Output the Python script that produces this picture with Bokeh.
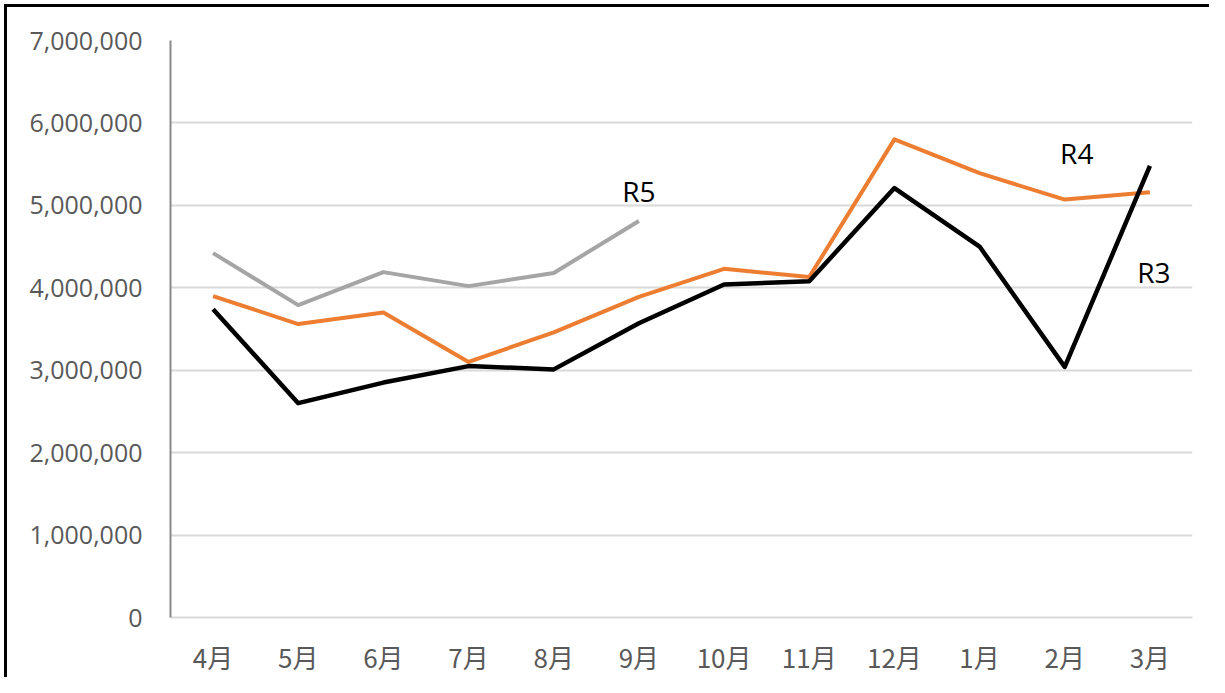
from bokeh.plotting import figure
from bokeh.models import ColumnDataSource, FactorRange, Range1d, NumeralTickFormatter, FixedTicker
from bokeh.core.properties import value
from bokeh.embed import file_html
from bokeh.resources import INLINE

months = ["4月", "5月", "6月", "7月", "8月", "9月", "10月", "11月", "12月", "1月", "2月", "3月"]
r3 = [3740000, 2600000, 2850000, 3050000, 3010000, 3570000, 4040000, 4080000, 5210000, 4500000, 3040000, 5480000]
r4 = [3900000, 3560000, 3700000, 3100000, 3460000, 3890000, 4230000, 4130000, 5800000, 5390000, 5070000, 5160000]
r5_months = ["4月", "5月", "6月", "7月", "8月", "9月"]
r5 = [4420000, 3790000, 4190000, 4020000, 4180000, 4810000]
y_ticks = [0, 1000000, 2000000, 3000000, 4000000, 5000000, 6000000, 7000000]

p = figure(
    x_range=FactorRange(*months, range_padding=0),
    y_range=Range1d(0, 7000000),
    width=1209, height=677,
    output_backend="svg", toolbar_location=None,
    min_border_left=170, min_border_right=17, min_border_top=40, min_border_bottom=59,
)
p.styles = {"box-shadow": "inset 4px 4px 0 0 white, inset 7px 7px 0 0 black",
            "background-color": "white"}
p.outline_line_color = None
p.background_fill_color = "white"
p.border_fill_color = None

# grid
p.xgrid.grid_line_color = None
p.ygrid.grid_line_color = "#d9d9d9"
p.ygrid.grid_line_width = 2
p.yaxis.ticker = FixedTicker(ticks=y_ticks)
p.yaxis.formatter = NumeralTickFormatter(format="0,0")

# axes
for ax in (p.xaxis[0], p.yaxis[0]):
    ax.major_tick_line_color = None
    ax.minor_tick_line_color = None
    ax.major_label_text_color = "#595959"
    ax.major_label_text_font_style = "normal"
p.yaxis.axis_line_color = "#898989"
p.yaxis.axis_line_width = 2
p.yaxis.major_label_text_font = "Open Sans"
p.yaxis.major_label_text_font_size = "25px"
p.yaxis.major_label_standoff = 22
p.xaxis.axis_line_color = "#d9d9d9"
p.xaxis.axis_line_width = 2
p.xaxis.major_label_text_font = "Noto Sans CJK JP"
p.xaxis.major_label_text_font_size = "26px"
p.xaxis.major_label_standoff = 14

src3 = ColumnDataSource(dict(x=months, y=r3))
src4 = ColumnDataSource(dict(x=months, y=r4))
src5 = ColumnDataSource(dict(x=r5_months, y=r5))

p.line("x", "y", source=src5, line_color="#a5a5a5", line_width=4, line_join="round")
p.line("x", "y", source=src4, line_color="#ed7d31", line_width=4, line_join="round")
p.line("x", "y", source=src3, line_color="#000000", line_width=4.5, line_join="round")

# series labels, anchored at data points
lab = ColumnDataSource(dict(
    x=["9月", "2月", "3月"],
    y=[r5[5], r4[10], r3[11]],
    t=["R5", "R4", "R3"],
    dx=[0, 12, 4],
    dy=[-30, -47, 106],
))
p.text("x", "y", text="t", source=lab, x_offset="dx", y_offset="dy",
       text_font=value("Open Sans"), text_font_size="28px", text_color="black",
       text_align="center", text_baseline="middle")

open("out.html", "w").write(file_html(p, INLINE))
